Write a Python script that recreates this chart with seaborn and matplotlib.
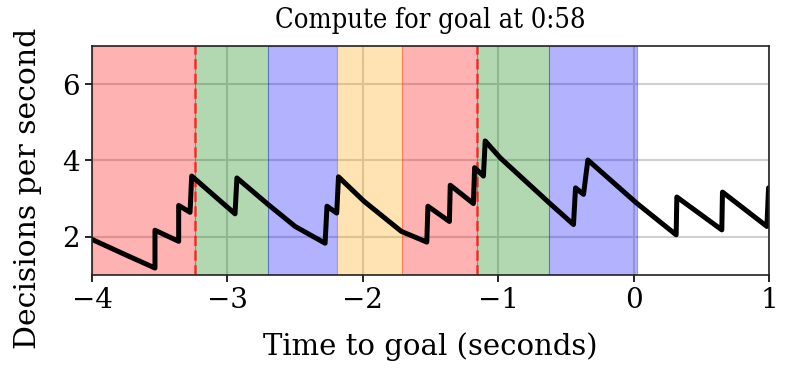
import matplotlib
matplotlib.use("Agg")
import matplotlib.pyplot as plt
import seaborn as sns
import pandas as pd

# decisions-per-second trace (time to goal, rate)
time_s = [-4.0, -3.754, -3.535, -3.535, -3.36, -3.36, -3.276, -3.264,
          -2.944, -2.93, -2.698, -2.50, -2.279, -2.265, -2.193, -2.18,
          -1.992, -1.716, -1.528, -1.52, -1.361, -1.355, -1.184, -1.175,
          -1.11, -1.097, -0.987, -0.625, -0.445, -0.43, -0.371, -0.339,
          0.018, 0.313, 0.318, 0.650, 0.655, 0.983, 0.995]
rate = [1.93, 1.53, 1.18, 2.17, 1.88, 2.82, 2.64, 3.59,
        2.60, 3.54, 2.84, 2.27, 1.83, 2.80, 2.62, 3.57,
        2.93, 2.14, 1.86, 2.80, 2.40, 3.35, 2.87, 3.81,
        3.59, 4.51, 4.07, 2.89, 2.32, 3.28, 3.11, 4.01,
        2.89, 2.05, 3.04, 2.18, 3.17, 2.27, 3.28]

# phase bands
band_start = [-4.0, -3.239, -2.698, -2.189, -1.713, -1.160, -0.623]
band_end = [-3.239, -2.698, -2.189, -1.713, -1.160, -0.623, 0.022]
band_color = ["red", "green", "blue", "orange", "red", "green", "blue"]
switch_times = [-3.239, -1.160]

sns.set_theme(style="ticks")
plt.rcParams["font.family"] = ["DejaVu Serif"]
plt.rcParams["text.color"] = "black"
plt.rcParams["axes.labelcolor"] = "black"

fig = plt.figure(figsize=(7.93, 3.70), dpi=100)
ax = fig.add_axes([0.116, 0.257, 0.854, 0.619])

for s, e, c in zip(band_start, band_end, band_color):
    ax.axvspan(s, e, color=c, alpha=0.3, lw=0.8)
for t in switch_times:
    ax.axvline(t, color="red", ls="--", lw=2, alpha=0.6)

df = pd.DataFrame({"t": time_s, "r": rate})
sns.lineplot(data=df, x="t", y="r", sort=False, estimator=None,
             color="black", lw=3.6, ax=ax)

ax.grid(True, color="#d0d0d0", lw=1.5)
ax.set_xlim(-4, 1)
ax.set_ylim(1, 7)
ax.set_yticks([2, 4, 6])
ax.set_xticks([-4, -3, -2, -1, 0, 1])
ax.tick_params(labelsize=20, width=1.2, length=5, colors="black")
for sp in ax.spines.values():
    sp.set_color("#222222")
    sp.set_linewidth(1.2)
ax.set_xlabel("Time to goal (seconds)", fontsize=21, labelpad=13)
ax.set_ylabel("Decisions per second", fontsize=21.5)
ax.yaxis.set_label_coords(-0.074, 0.376)
ax.set_title("Compute for goal at 0:58", fontsize=19.5,
             fontstretch="condensed", pad=13)

fig.savefig("out.png", dpi=100)
